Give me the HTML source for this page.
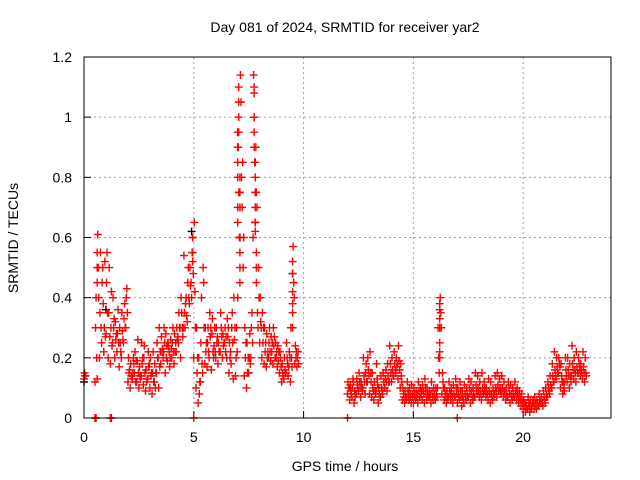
<!DOCTYPE html>
<html><head><meta charset="utf-8"><style>
body{margin:0;background:#fff}
svg{display:block;font-family:"Liberation Sans",sans-serif}
</style></head><body>
<svg id="chart" width="640" height="480" viewBox="0 0 640 480">
<rect width="640" height="480" fill="#fff"/>
<g id="grid"></g>
<g id="axes"></g>
<g id="black"></g>
<g id="red"></g>
<rect x="84" y="57" width="527" height="361" fill="none" stroke="#000" stroke-width="1"/>
<text x="345" y="32" text-anchor="middle" font-size="14">Day 081 of 2024, SRMTID for receiver yar2</text>
<text x="345" y="471" text-anchor="middle" font-size="14">GPS time / hours</text>
<text x="18" y="238" text-anchor="middle" font-size="14" transform="rotate(-90 18 238)">SRMTID / TECUs</text>
</svg>
<script>
const xTicks=[0,5,10,15,20];
const yTicks=[0,0.2,0.4,0.6,0.8,1,1.2];
const yTickLabels=["0","0.2","0.4","0.6","0.8","1","1.2"];
const tStep=0.1;
const v1=[.13,null,null,null,null,.12,.13,.2,.25,.22, .28,.2,.18,.25,.2,.22,.17,.2,.25,.3, .12,.1,.13,.15,.12,.1,.14,.11,.09,.13, .1,.08,.12,.15,.1,.18,.2,.15,.19,.17, .2,.18,.22,.25,.2,.27,.3,.32,.38,.4, .2,.1,.05,.12,.15,.18,.17,.2,.16,.2, .2,.18,.22,.2,.25,.2,.15,.18,.13,.14, .4,.6,.7,.14,.1,.15,.2,.6,.65,.35, .25,.2,.18,.17,.2,.19,.18,.2,.17,.15, .12,.13,.15,.14,.12,.3,.18,.17,null,null,
null,null,null,null,null,null,null,null,null,null,null,null,null,null,null,null,null,null,null,null,
.08,.06,.07,.05,.08,.09,.07,.1,.08,.12, .08,.07,.06,.09,.05,.07,.08,.1,.09,.12, .12,.14,.15,.13,.1,.06,.05,.07,.06,.05, .05,.06,.05,.07,.06,.05,.06,.07,.05,.06, .06,.1,.2,.08,.06,.05,.07,.06,.05,.07, .05,.06,.04,.05,.06,.07,.05,.06,.07,.08, .07,.06,.08,.07,.06,.05,.06,.08,.07,.09, .08,.07,.06,.07,.05,.06,.07,.06,.05,.04, .03,.02,.03,.02,.04,.03,.03,.04,.05,.04, .05,.07,.08,.1,.12,.13,.15,.1,.08,.12, .12,.1,.14,.13,.12,.15,.14,.13,.12];
const v2=[.15,null,null,null,null,.3,.61,.35,.45,.3, .45,.35,.3,.4,.32,.28,.3,.35,.33,.4, .2,.18,.15,.22,.19,.17,.25,.2,.16,.22, .2,.15,.18,.25,.3,.27,.22,.28,.25,.2, .25,.28,.3,.35,.4,.3,.38,.45,.5,.55, .65,.3,.2,.25,.5,.3,.25,.35,.28,.24, .3,.25,.35,.28,.3,.33,.25,.3,.4,.2, .9,1.14,.85,.3,.25,.2,.3,1.14,.9,.3, .4,.35,.3,.28,.25,.27,.3,.25,.24,.22, .18,.2,.25,.17,.3,.57,.24,.2,null,null,
null,null,null,null,null,null,null,null,null,null,null,null,null,null,null,null,null,null,null,null,
.12,.11,.1,.09,.13,.15,.12,.2,.15,.2, .22,.15,.12,.18,.1,.14,.15,.13,.18,.24, .2,.22,.2,.24,.18,.1,.09,.12,.1,.11, .1,.09,.12,.1,.11,.13,.1,.09,.12,.1, .1,.3,.4,.15,.1,.09,.12,.1,.11,.13, .1,.12,.09,.11,.1,.13,.12,.1,.15,.14, .12,.15,.12,.1,.13,.12,.1,.14,.15,.13, .14,.12,.1,.12,.11,.1,.12,.1,.09,.08, .06,.05,.07,.06,.05,.07,.06,.08,.07,.09, .1,.12,.14,.18,.22,.2,.2,.18,.12,.2, .2,.18,.24,.2,.22,.2,.18,.22,.2];
const v3=[.14,null,null,null,null,.4,.5,.55,.5,.52, .55,.5,.42,.3,.26,.36,.25,.29,.38,.43, .15,.14,.2,.12,.26,.14,.18,.24,.12,.17, .14,.22,.1,.2,.17,.22,.3,.2,.24,.26, .3,.22,.26,.3,.35,.54,.4,.5,.44,.6, .42,.15,.08,.4,.45,.22,.3,.27,.33,.3, .25,.22,.3,.24,.22,.27,.2,.35,.26,.3, .75,1.05,.5,.2,.15,.28,.35,1.0,.75,.5, .32,.25,.22,.2,.3,.22,.24,.2,.19,.2, .15,.16,.2,.22,.2,.45,.2,.22,null,null,
null,null,null,null,null,null,null,null,null,null,null,null,null,null,null,null,null,null,null,null,
.1,.09,.13,.07,.11,.12,.1,.14,.18,.16, .15,.1,.09,.13,.08,.1,.12,.16,.14,.18, .16,.18,.17,.19,.14,.08,.07,.09,.08,.08, .08,.07,.09,.08,.09,.1,.08,.07,.09,.08, .08,.2,.35,.12,.08,.07,.09,.08,.08,.1, .08,.09,.07,.08,.08,.1,.09,.08,.11,.1, .09,.1,.1,.08,.09,.08,.08,.1,.11,.1, .1,.09,.08,.1,.08,.08,.09,.08,.07,.06, .05,.04,.05,.04,.06,.05,.05,.06,.06,.07, .08,.1,.11,.14,.16,.17,.18,.14,.1,.16, .16,.14,.18,.16,.17,.18,.16,.17,.15];
const v4=[.14,null,null,null,null,.2,.4,.3,.38,.27, .35,.27,.24,.33,.28,.25,.22,.26,.3,.35, .16,.14,.18,.19,.15,.13,.2,.15,.13,.18, .15,.12,.15,.2,.22,.23,.25,.24,.22,.23, .22,.25,.27,.3,.3,.35,.34,.4,.45,.48, .3,.2,.12,.18,.3,.25,.22,.3,.22,.22, .27,.22,.27,.25,.27,.3,.22,.25,.3,.22, .6,.8,.6,.25,.2,.18,.25,.85,.7,.4, .3,.3,.25,.22,.22,.25,.27,.22,.22,.17, .14,.15,.18,.2,.17,.4,.22,.18,null,null,
null,null,null,null,null,null,null,null,null,null,null,null,null,null,null,null,null,null,null,null,
.1,.08,.12,.08,.1,.1,.09,.12,.12,.14, .12,.09,.08,.11,.07,.09,.1,.12,.12,.15, .14,.16,.18,.16,.12,.07,.06,.08,.07,.07, .07,.08,.07,.09,.08,.08,.07,.08,.07,.07, .07,.15,.3,.1,.07,.06,.08,.07,.07,.08, .07,.07,.06,.07,.07,.08,.07,.07,.09,.09, .08,.08,.09,.08,.08,.07,.07,.09,.09,.09, .09,.08,.07,.08,.07,.07,.08,.07,.06,.05, .04,.03,.04,.03,.05,.04,.04,.05,.05,.06, .07,.09,.1,.12,.14,.15,.17,.12,.09,.14, .14,.12,.16,.15,.15,.16,.15,.15,.14];
const spikeTimes=[7.0,7.0,7.0,7.0,7.0,7.0,7.05,7.05,7.05,7.05,7.1,7.1,7.1,7.1,7.1,7.1,7.75,7.75,7.75,7.75,7.75,7.8,7.8,7.8,7.8,7.8,7.8,7.85,7.85,7.85,4.95,4.95,4.95,9.5,9.5,9.5,9.5,9.5,0.6,0.6,0.6,16.2,16.2,16.2,16.2,16.2,16.2];
const spikeVals=[.95,.9,.85,.8,.7,.65,1.1,1.05,1.0,.95,.8,.75,.7,.55,.5,.45,1.1,1.08,1.0,.95,.9,.85,.8,.75,.7,.65,.62,.55,.5,.45,.6,.55,.52,.52,.48,.42,.38,.35,.55,.5,.45,.38,.36,.33,.3,.25,.22];
const zeroTimes=[0.5,0.55,1.2,1.25,5.0,12.0,17.0];
const blackTimes=[0,1.0,4.9,7.1,7.8,9.5,14.8,16.2];
const blackVals=[.12,.36,.62,.6,.65,.48,.06,.3];
const NS='http://www.w3.org/2000/svg';
const X=t=>84+t*(527/24);
const Y=v=>418-v*(361/1.2);
function mk(tag,attrs,parent){const e=document.createElementNS(NS,tag);for(const k in attrs)e.setAttribute(k,attrs[k]);parent.appendChild(e);return e;}
const grid=document.getElementById('grid'),axes=document.getElementById('axes');
xTicks.forEach((t,i)=>{
 if(t>0){const l=mk('line',{x1:X(t),x2:X(t),y1:57,y2:418,stroke:'#a0a0a0','stroke-dasharray':'2,3'},grid);
 
 }
 const tk=mk('line',{x1:X(t),x2:X(t),y1:418,y2:411,stroke:'#000'},axes);
 
 
 const tx=mk('text',{x:X(t),y:442,'text-anchor':'middle','font-size':14},axes);tx.textContent=String(t);
 
 
});
yTicks.forEach((v,i)=>{
 if(v>0&&v<1.2){const l=mk('line',{x1:84,x2:611,y1:Y(v),y2:Y(v),stroke:'#a0a0a0','stroke-dasharray':'2,3'},grid);
 
 }
 const tk=mk('line',{x1:84,x2:91,y1:Y(v),y2:Y(v),stroke:'#000'},axes);
 
 
 const tx=mk('text',{x:72,y:Y(v)+5,'text-anchor':'end','font-size':14},axes);tx.textContent=yTickLabels[i];
 
 
});
function plus(g,t,v,color,name){
 const x=X(t),y=Y(v);
 const p=mk('path',{d:`M${x-4},${y}H${x+4}M${x},${y-4}V${y+4}`,stroke:color,'stroke-width':1.4,fill:'none'},g);
 
 
}
const bg=document.getElementById('black'),rg=document.getElementById('red');
blackTimes.forEach((t,i)=>plus(bg,t,blackVals[i],'#000','black-point'));
[[v1,0],[v2,0.025],[v3,0.05],[v4,0.075]].forEach(([arr,off])=>{
 arr.forEach((v,i)=>{if(v!==null)plus(rg,i*tStep+off,v,'#f00','red-point');});
});
spikeTimes.forEach((t,i)=>plus(rg,t,spikeVals[i],'#f00','spike-point'));
zeroTimes.forEach(t=>plus(rg,t,0,'#f00','zero-point'));
</script>
</body></html>
